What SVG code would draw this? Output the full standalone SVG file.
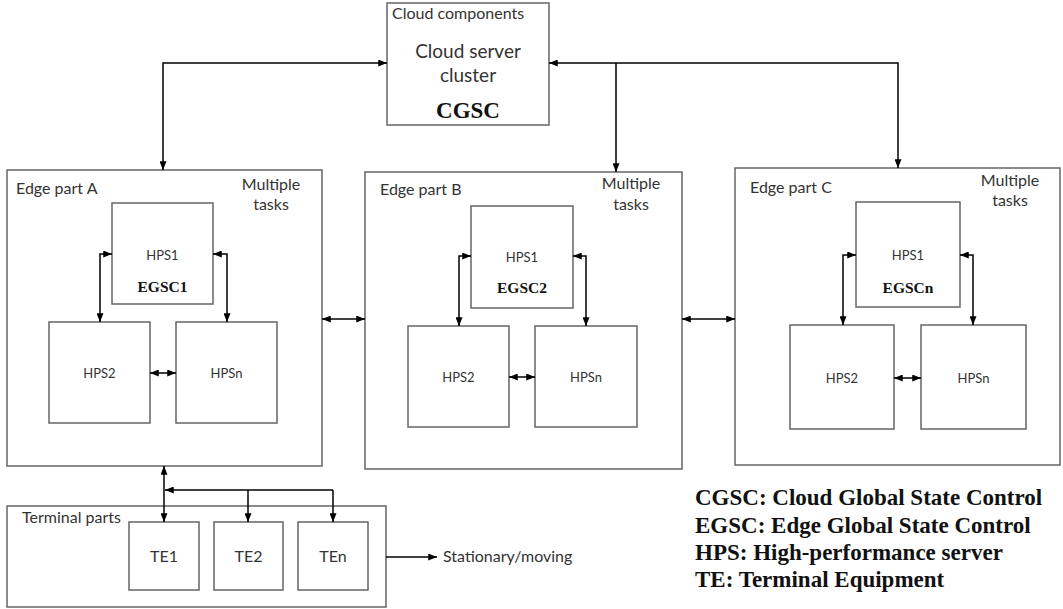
<svg xmlns="http://www.w3.org/2000/svg" width="1063" height="609" viewBox="0 0 1063 609">
  <style>
    .box { fill: #ffffff; stroke: #666666; stroke-width: 1.5; }
    .wire { fill: none; stroke: #000000; stroke-width: 1.5; }
    .lbl { font-family: Lato, "Liberation Sans", sans-serif; fill: #333333; }
    .big { font-size: 16px; }
    .mid { font-size: 19px; }
    .sm { font-size: 13px; }
    .ser { font-family: "Liberation Serif", "Times New Roman", serif; font-weight: bold; fill: #111111; }
    .mid-a { text-anchor: middle; }
  </style>
  <defs>
    <marker id="ah" viewBox="0 0 10 8" refX="10" refY="4" markerWidth="9" markerHeight="7" markerUnits="userSpaceOnUse" orient="auto-start-reverse">
      <path d="M0,0 L10,4 L0,8 Z" fill="#000000"/>
    </marker>
  </defs>
  <rect width="1063" height="609" fill="#ffffff"/>

  <!-- Cloud -->
  <g id="cloud">
    <rect class="box" x="387" y="3" width="162" height="122"/>
    <text class="lbl big" x="392" y="19">Cloud components</text>
    <text class="lbl mid mid-a" x="468" y="58">Cloud server</text>
    <text class="lbl mid mid-a" x="468" y="82">cluster</text>
    <text class="ser mid-a" x="468" y="118" font-size="23">CGSC</text>
  </g>

  <!-- Edge part A -->
  <g id="edge-a">
    <rect class="box" x="7" y="170" width="315" height="296"/>
    <text class="lbl big" x="16" y="194">Edge part A</text>
    <text class="lbl big mid-a" x="271" y="190">Multiple</text>
    <text class="lbl big mid-a" x="271" y="210">tasks</text>
  </g>
  <g id="a-hps1">
    <rect class="box" x="112" y="203" width="101" height="101"/>
    <text class="lbl sm mid-a" x="162.5" y="260">HPS1</text>
    <text class="ser mid-a" x="162.5" y="292" font-size="15.5">EGSC1</text>
  </g>
  <g id="a-hps2">
    <rect class="box" x="49" y="322" width="101" height="101"/>
    <text class="lbl sm mid-a" x="99.5" y="378">HPS2</text>
  </g>
  <g id="a-hpsn">
    <rect class="box" x="176" y="322" width="101" height="101"/>
    <text class="lbl sm mid-a" x="226.5" y="378">HPSn</text>
  </g>

  <!-- Edge part B -->
  <g id="edge-b">
    <rect class="box" x="365" y="172" width="317" height="297"/>
    <text class="lbl big" x="380" y="195">Edge part B</text>
    <text class="lbl big mid-a" x="631" y="189">Multiple</text>
    <text class="lbl big mid-a" x="631" y="210">tasks</text>
  </g>
  <g id="b-hps1">
    <rect class="box" x="471" y="206" width="102" height="102"/>
    <text class="lbl sm mid-a" x="522" y="262">HPS1</text>
    <text class="ser mid-a" x="522" y="293" font-size="15.5">EGSC2</text>
  </g>
  <g id="b-hps2">
    <rect class="box" x="408" y="326" width="101" height="101"/>
    <text class="lbl sm mid-a" x="458.5" y="382">HPS2</text>
  </g>
  <g id="b-hpsn">
    <rect class="box" x="535" y="326" width="102" height="101"/>
    <text class="lbl sm mid-a" x="586" y="382">HPSn</text>
  </g>

  <!-- Edge part C -->
  <g id="edge-c">
    <rect class="box" x="735" y="168" width="325" height="297"/>
    <text class="lbl big" x="750" y="193">Edge part C</text>
    <text class="lbl big mid-a" x="1010" y="186">Multiple</text>
    <text class="lbl big mid-a" x="1010" y="206">tasks</text>
  </g>
  <g id="c-hps1">
    <rect class="box" x="856" y="202" width="104" height="105"/>
    <text class="lbl sm mid-a" x="908" y="260">HPS1</text>
    <text class="ser mid-a" x="908" y="293" font-size="15.5">EGSCn</text>
  </g>
  <g id="c-hps2">
    <rect class="box" x="790" y="325" width="104" height="104"/>
    <text class="lbl sm mid-a" x="842" y="383">HPS2</text>
  </g>
  <g id="c-hpsn">
    <rect class="box" x="921" y="325" width="105" height="104"/>
    <text class="lbl sm mid-a" x="973.5" y="383">HPSn</text>
  </g>

  <!-- Terminal parts -->
  <g id="terminal">
    <rect class="box" x="7" y="506" width="379" height="101"/>
    <text class="lbl big" x="22" y="523">Terminal parts</text>
  </g>
  <g id="te1">
    <rect class="box" x="129" y="522" width="70" height="68"/>
    <text class="lbl big mid-a" x="164" y="562">TE1</text>
  </g>
  <g id="te2">
    <rect class="box" x="214" y="522" width="69" height="68"/>
    <text class="lbl big mid-a" x="248.5" y="562">TE2</text>
  </g>
  <g id="ten">
    <rect class="box" x="298" y="522" width="70" height="68"/>
    <text class="lbl big mid-a" x="333" y="562">TEn</text>
  </g>
  <g id="motion">
    <text class="lbl big" x="443" y="562">Stationary/moving</text>
  </g>

  <!-- Legend -->
  <g id="legend" class="ser" font-size="23">
    <text x="695" y="505">CGSC: Cloud Global State Control</text>
    <text x="695" y="533">EGSC: Edge Global State Control</text>
    <text x="695" y="560">HPS: High-performance server</text>
    <text x="695" y="587">TE: Terminal Equipment</text>
  </g>

  <!-- Connectors -->
  <g id="connectors" class="wire">
    <!-- cloud to edges -->
    <polyline points="387,63 163,63 163,170" marker-start="url(#ah)" marker-end="url(#ah)"/>
    <polyline points="549,63 898,63 898,168" marker-start="url(#ah)" marker-end="url(#ah)"/>
    <line x1="616" y1="63" x2="616" y2="172" marker-end="url(#ah)"/>

    <!-- between edge parts -->
    <line x1="322" y1="319" x2="365" y2="319" marker-start="url(#ah)" marker-end="url(#ah)"/>
    <line x1="682" y1="319" x2="735" y2="319" marker-start="url(#ah)" marker-end="url(#ah)"/>

    <!-- inside edge part A -->
    <polyline points="112,254 100,254 100,322" marker-start="url(#ah)" marker-end="url(#ah)"/>
    <polyline points="213,254 227,254 227,322" marker-start="url(#ah)" marker-end="url(#ah)"/>
    <line x1="150" y1="373" x2="176" y2="373" marker-start="url(#ah)" marker-end="url(#ah)"/>

    <!-- inside edge part B -->
    <polyline points="471,256 459,256 459,326" marker-start="url(#ah)" marker-end="url(#ah)"/>
    <polyline points="573,256 586,256 586,326" marker-start="url(#ah)" marker-end="url(#ah)"/>
    <line x1="509" y1="377" x2="535" y2="377" marker-start="url(#ah)" marker-end="url(#ah)"/>

    <!-- inside edge part C -->
    <polyline points="856,255 843,255 843,325" marker-start="url(#ah)" marker-end="url(#ah)"/>
    <polyline points="960,255 973,255 973,325" marker-start="url(#ah)" marker-end="url(#ah)"/>
    <line x1="894" y1="378" x2="921" y2="378" marker-start="url(#ah)" marker-end="url(#ah)"/>

    <!-- edge part A to terminals -->
    <line x1="164" y1="466" x2="164" y2="522" marker-start="url(#ah)" marker-end="url(#ah)"/>
    <polyline points="165,490 333,490" marker-start="url(#ah)"/>
    <line x1="248" y1="490" x2="248" y2="522" marker-end="url(#ah)"/>
    <line x1="333" y1="490" x2="333" y2="522" marker-end="url(#ah)"/>

    <!-- terminal movement -->
    <line x1="386" y1="557" x2="437" y2="557" marker-end="url(#ah)"/>
  </g>
</svg>
